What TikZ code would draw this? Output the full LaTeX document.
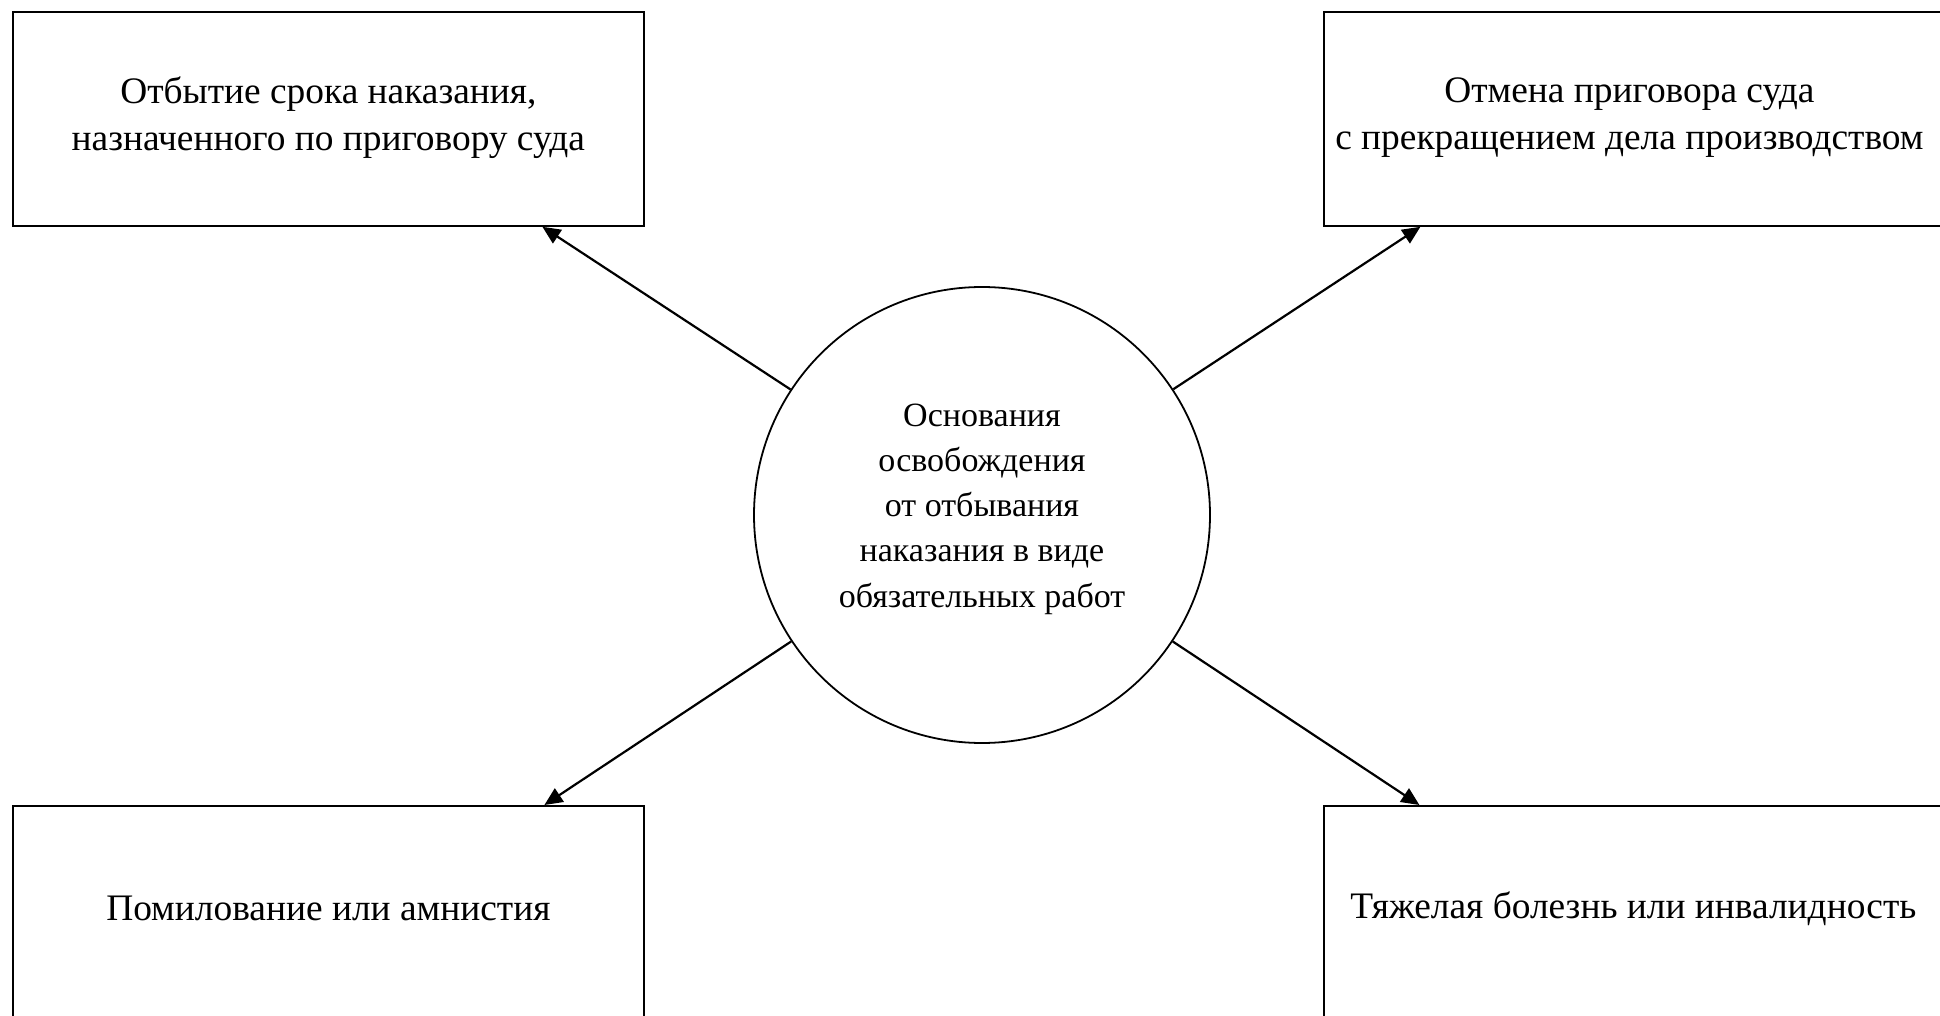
\documentclass[tikz,border=0pt]{standalone}
\usepackage{fontspec}
\setmainfont{Liberation Serif}
\usetikzlibrary{arrows.meta,calc}
\begin{document}
\begin{tikzpicture}[x=0.5pt,y=-0.5pt,
  box/.style={draw,line width=0.9pt,minimum width=315.5pt,minimum height=107pt,inner sep=0pt,anchor=north west},
  lbl/.style={font=\fontsize{18.7}{23.5}\selectfont,align=center},
  circ/.style={draw,circle,line width=0.9pt,minimum size=228pt,inner sep=0pt},
  arr/.style={line width=1.1pt,-{Triangle[length=9pt,width=8pt]}}]
\useasboundingbox (0,0) rectangle (1940,1016);
\node[box,label={[lbl,yshift=0.5pt]center:{Отбытие срока наказания,\\назначенного по приговору суда}}] (tl) at (12,11) {};
\node[box,label={[lbl,xshift=-5pt,yshift=0.5pt]center:{Отмена приговора суда\\с прекращением дела производством}}] (tr) at (1323,11) {};
\node[box,label={[lbl,yshift=2pt]center:{Помилование или амнистия}}] (bl) at (12,805) {};
\node[box,label={[lbl,xshift=-3pt,yshift=2pt]center:{Тяжелая болезнь или инвалидность}}] (br) at (1323,805) {};
\node[circ,label={[lbl,font=\fontsize{17}{22.6}\selectfont,yshift=3pt]center:{Основания\\освобождения\\от отбывания\\наказания в виде\\обязательных работ}}] (c) at (982,515) {};
\coordinate (tTL) at ($(tl.south)+(214,0)$);
\coordinate (tTR) at ($(tr.south)+(-219,0)$);
\coordinate (tBL) at ($(bl.north)+(216,0)$);
\coordinate (tBR) at ($(br.north)+(-220,0)$);
\draw[arr] (c) -- (tTL);
\draw[arr] (c) -- (tTR);
\draw[arr] (c) -- (tBL);
\draw[arr] (c) -- (tBR);
\end{tikzpicture}
\end{document}
